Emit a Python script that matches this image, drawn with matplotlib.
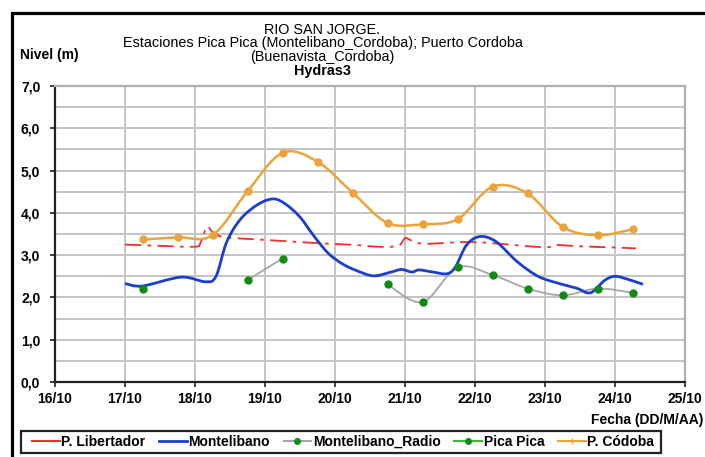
import numpy as np
import matplotlib
matplotlib.use("Agg")
import matplotlib.pyplot as plt
from matplotlib.path import Path
from matplotlib.patches import PathPatch, Rectangle
from matplotlib.lines import Line2D
from matplotlib.ticker import FuncFormatter, MultipleLocator

plt.rcParams['font.family'] = ['Liberation Sans', 'DejaVu Sans']

# --- data (x = day of October, y = nivel in m) ---
tick_days = [16, 17, 18, 19, 20, 21, 22, 23, 24, 25]
tick_labels = ["16/10", "17/10", "18/10", "19/10", "20/10",
               "21/10", "22/10", "23/10", "24/10", "25/10"]

lib_x = [17.0, 17.5, 18.0, 18.08, 18.17, 18.25, 18.4, 18.8, 19.3, 19.8, 20.3,
         20.6, 20.9, 21.0, 21.1, 21.25, 21.5, 21.85, 22.2, 22.75, 23.05,
         23.15, 23.5, 24.0, 24.3]
lib_y = [3.25, 3.22, 3.20, 3.30, 3.67, 3.55, 3.43, 3.38, 3.33, 3.28, 3.24,
         3.20, 3.22, 3.40, 3.34, 3.27, 3.28, 3.31, 3.29, 3.21, 3.19,
         3.24, 3.21, 3.18, 3.16]

mont_x = [17.0, 17.25, 17.8, 18.15, 18.3, 18.45, 18.65, 18.9, 19.12, 19.3,
          19.5, 19.7, 19.9, 20.1, 20.3, 20.55, 20.8, 20.95, 21.1, 21.2, 21.4,
          21.6, 21.72, 21.88, 22.07, 22.3, 22.6, 22.9, 23.2, 23.45, 23.65,
          23.85, 24.0, 24.2, 24.4]
mont_y = [2.33, 2.27, 2.48, 2.37, 2.50, 3.30, 3.85, 4.20, 4.33, 4.20,
          3.90, 3.45, 3.05, 2.80, 2.64, 2.51, 2.60, 2.66, 2.60, 2.65, 2.60,
          2.56, 2.72, 3.24, 3.44, 3.32, 2.85, 2.50, 2.33, 2.22, 2.11,
          2.40, 2.50, 2.42, 2.31]

obs_x = [17.25, 17.75, 18.25, 18.75, 19.25, 19.75, 20.25, 20.75, 21.25,
         21.75, 22.25, 22.75, 23.25, 23.75, 24.25]
radio_y = [2.21, np.nan, np.nan, 2.41, 2.92, np.nan, np.nan, 2.31, 1.89,
           2.71, 2.53, 2.21, 2.05, 2.21, 2.11]
cordoba_y = [3.37, 3.42, 3.47, 4.51, 5.42, 5.21, 4.48, 3.76, 3.73,
             3.85, 4.62, 4.46, 3.67, 3.47, 3.61]

C_RED = "#ff2a2a"
C_BLUE = "#1a3fd0"
C_GRAY = "#a6a6a6"
C_GREEN = "#138a13"
C_ORANGE = "#eba33a"


def smooth_path(xs, ys):
    """Excel-like smoothed line as cubic Bezier path (breaks at NaN)."""
    pts = np.column_stack([xs, ys]).astype(float)
    ok = np.isfinite(pts[:, 1])
    verts, codes = [], []
    i = 0
    while i < len(pts):
        if not ok[i]:
            i += 1
            continue
        j = i
        while j < len(pts) and ok[j]:
            j += 1
        run = pts[i:j]
        if len(run) > 1:
            verts.append(run[0]); codes.append(Path.MOVETO)
            n = len(run)
            for k in range(n - 1):
                p0 = run[k - 1] if k > 0 else run[k]
                p1, p2 = run[k], run[k + 1]
                p3 = run[k + 2] if k + 2 < n else run[k + 1]
                verts += [p1 + (p2 - p0) / 6, p2 - (p3 - p1) / 6, p2]
                codes += [Path.CURVE4] * 3
        i = j
    return Path(verts, codes)


fig = plt.figure(figsize=(7.05, 4.57), dpi=100)
ax = fig.add_axes([55 / 705, 1 - 382 / 457, 630 / 705, 296 / 457])

ax.set_xlim(16, 25)
ax.set_ylim(0, 7)
ax.set_xticks(tick_days)
ax.set_xticklabels(tick_labels)
ax.yaxis.set_major_locator(MultipleLocator(1))
ax.yaxis.set_minor_locator(MultipleLocator(0.5))
ax.yaxis.set_major_formatter(FuncFormatter(lambda v, p: f"{v:.1f}".replace(".", ",")))
ax.grid(True, which="both", color="#c4c4c4", lw=1.4)
ax.tick_params(axis="y", which="minor", length=0)
ax.tick_params(which="major", direction="out", length=3.6, width=1.3, color="#333333",
               labelsize=10)
ax.tick_params(axis="x", pad=3.5)
ax.tick_params(axis="y", pad=7)
ax.set_axisbelow(True)
for lab in ax.get_xticklabels() + ax.get_yticklabels():
    lab.set_fontweight("bold")
for s in ["left", "bottom"]:
    ax.spines[s].set_color("#222222")
    ax.spines[s].set_linewidth(1.6)
for s in ["top", "right"]:
    ax.spines[s].set_color("#b0b0b0")
    ax.spines[s].set_linewidth(1.6)

# lines
ax.add_patch(PathPatch(smooth_path(lib_x, lib_y), fc="none", ec=C_RED, lw=1.3,
                       linestyle=(0, (9, 3.5, 2, 3.5)), zorder=3))
ax.add_patch(PathPatch(smooth_path(mont_x, mont_y), fc="none", ec=C_BLUE, lw=2.0,
                       zorder=4))
ax.add_patch(PathPatch(smooth_path(obs_x, radio_y), fc="none", ec=C_GRAY, lw=1.3,
                       zorder=3))
ax.plot(obs_x, radio_y, "o", color=C_GREEN, ms=5, ls="none", zorder=5)
ax.add_patch(PathPatch(smooth_path(obs_x, cordoba_y), fc="none", ec=C_ORANGE, lw=1.8,
                       zorder=4))
ax.plot(obs_x, cordoba_y, "o", color=C_ORANGE, ms=5, ls="none", zorder=5)

# titles
title_fs = 10.4
fig.text(322 / 705, 1 - 30 / 457, "RIO SAN JORGE.", ha="center", va="center", fontsize=title_fs)
fig.text(323 / 705, 1 - 43.5 / 457, "Estaciones Pica Pica (Montelibano_Cordoba); Puerto Cordoba",
         ha="center", va="center", fontsize=title_fs)
fig.text(322 / 705, 1 - 57.5 / 457, "(Buenavista_Cordoba)", ha="center", va="center",
         fontsize=title_fs)
fig.text(322 / 705, 1 - 71.5 / 457, "Hydras3", ha="center", va="center", fontsize=title_fs,
         fontweight="bold")
fig.text(20 / 705, 1 - 55 / 457, "Nivel (m)", ha="left", va="center", fontsize=10,
         fontweight="bold")
fig.text(703 / 705, 1 - 420 / 457, "Fecha (DD/M/AA)", ha="right", va="center", fontsize=10,
         fontweight="bold")

# outer frame
fig.add_artist(Rectangle((11.5 / 705, -0.2), 1.5, 1 - 13 / 457 + 0.2, transform=fig.transFigure,
                         fill=False, ec="black", lw=2.3, clip_on=False))

handles = [
    Line2D([], [], color=C_RED, lw=1.5),
    Line2D([], [], color=C_BLUE, lw=2.0),
    Line2D([], [], color=C_GRAY, lw=1.5, marker="o", mfc=C_GREEN, mec=C_GREEN, ms=4),
    Line2D([], [], color="#3cb83c", lw=1.5, marker="o", mfc=C_GREEN, mec=C_GREEN, ms=4),
    Line2D([], [], color=C_ORANGE, lw=1.5, marker="+", mec=C_ORANGE, ms=4),
]
names = ["P. Libertador", "Montelibano", "Montelibano_Radio", "Pica Pica", "P. Códoba"]
fig.add_artist(Rectangle((21 / 705, 1 - 453 / 457), 640 / 705, 22 / 457,
                         transform=fig.transFigure, fill=False, ec="#222222", lw=1.6))
fig.legend(handles, names, loc="center", bbox_to_anchor=(343 / 705, 1 - 442 / 457),
           ncol=5, frameon=False, prop={"weight": "bold", "size": 10},
           handlelength=2.0, handletextpad=0.1, columnspacing=1.0, borderpad=0.2)

fig.savefig("out.png", dpi=100)
